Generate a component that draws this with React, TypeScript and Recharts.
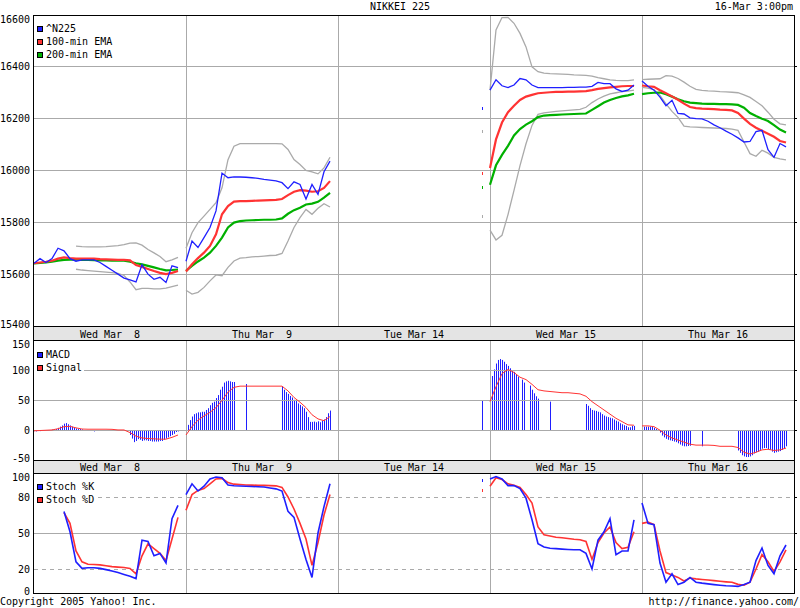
import React from "react";
import { ComposedChart, LineChart, Line, Bar, XAxis, YAxis, ReferenceLine } from "recharts";

const _ = null;
const none = (n: number) => Array(n).fill(null);
const lastOnly = (v: number) => [...none(24), v];

const FONT = '"DejaVu Sans Mono", monospace';
const BLUE = "#1f1fff";
const RED = "#ff3333";
const GREEN = "#00b000";
const GRAY = "#aaaaaa";
const GRID = "#aaaaaa";

// x axis: each trading day gets a 380-minute slot, data runs 9:00-15:00
const DAY_LABELS = ["Wed Mar  8", "Thu Mar  9", "Tue Mar 14", "Wed Mar 15", "Thu Mar 16"];
const SLOT = 380;
const STEP = 15; // line samples
const BAR_STEP = 5; // MACD bars
const DAY_EDGES = [380, 760, 1140, 1520];
const DAY_MIDS = [190, 570, 950, 1330, 1710];

const PRICE_TICKS = [15400, 15600, 15800, 16000, 16200, 16400, 16600];
const PRICE_GRID = [15600, 15800, 16000, 16200, 16400];
const MACD_TICKS = [-50, 0, 50, 100, 150];
const MACD_GRID = [0, 50, 100];
const STOCH_TICKS = [0, 20, 50, 80, 100];
const STOCH_GRID = [20, 50, 80];

// ^N225, 15-minute samples per day
const price = [
  [15642, 15660, 15645, 15660, 15700, 15690, 15660, 15650, 15655, 15655, 15655, 15645, 15630, 15615, 15600, 15585, 15578, 15570, 15636, 15600, 15580, 15588, 15568, 15632, 15625],
  [15650, 15728, 15703, 15741, 15780, 15844, 15990, 15972, 15975, 15975, 15974, 15972, 15970, 15966, 15963, 15960, 15953, 15930, 15956, 15946, 15890, 15946, 15908, 15995, 16036],
  lastOnly(16241),
  [16310, 16350, 16327, 16320, 16330, 16355, 16350, 16330, 16320, 16320, 16320, 16320, 16320, 16321, 16321, 16322, 16322, 16325, 16340, 16335, 16335, 16315, 16305, 16310, 16330],
  [16345, 16325, 16310, 16283, 16250, 16271, 16220, 16218, 16203, 16200, 16199, 16190, 16176, 16165, 16152, 16140, 16126, 16110, 16112, 16150, 16155, 16080, 16051, 16104, 16091],
];

const ema100 = [
  [15642, 15645, 15648, 15652, 15660, 15665, 15662, 15660, 15660, 15660, 15660, 15658, 15657, 15656, 15655, 15655, 15653, 15635, 15628, 15620, 15612, 15605, 15600, 15605, 15612],
  [15610, 15638, 15662, 15683, 15709, 15754, 15831, 15863, 15880, 15882, 15882, 15883, 15884, 15885, 15886, 15887, 15890, 15905, 15918, 15924, 15922, 15918, 15920, 15933, 15959],
  lastOnly(15987),
  [16010, 16120, 16185, 16225, 16250, 16272, 16285, 16292, 16298, 16300, 16302, 16303, 16303, 16304, 16304, 16305, 16306, 16310, 16315, 16318, 16321, 16323, 16325, 16326, 16326],
  [16328, 16325, 16323, 16310, 16298, 16286, 16273, 16258, 16245, 16241, 16239, 16238, 16237, 16235, 16234, 16232, 16222, 16200, 16180, 16165, 16153, 16142, 16130, 16114, 16108],
];

const ema200 = [
  [15642, 15643, 15645, 15648, 15652, 15655, 15656, 15656, 15655, 15655, 15654, 15653, 15653, 15652, 15652, 15652, 15648, 15642, 15638, 15632, 15626, 15620, 15615, 15616, 15618],
  [15613, 15632, 15649, 15664, 15683, 15709, 15741, 15780, 15799, 15805, 15807, 15808, 15809, 15810, 15810, 15811, 15815, 15833, 15847, 15856, 15869, 15872, 15879, 15895, 15914],
  lastOnly(15933),
  [15945, 16020, 16060, 16095, 16135, 16160, 16177, 16190, 16206, 16212, 16214, 16215, 16216, 16217, 16218, 16219, 16220, 16234, 16248, 16262, 16272, 16280, 16286, 16290, 16296],
  [16295, 16298, 16300, 16301, 16294, 16285, 16275, 16267, 16262, 16260, 16258, 16257, 16257, 16256, 16256, 16255, 16253, 16242, 16222, 16210, 16200, 16191, 16175, 16158, 16147],
];

const bandUpper = [
  [_, _, _, _, _, _, _, 15708, 15706, 15705, 15705, 15705, 15706, 15708, 15710, 15714, 15720, 15721, 15712, 15695, 15682, 15668, 15648, 15655, 15665],
  [15700, 15760, 15799, 15824, 15850, 15876, 15933, 16042, 16094, 16104, 16104, 16104, 16104, 16104, 16104, 16104, 16103, 16081, 16042, 16023, 16000, 15995, 15987, 16010, 16051],
  lastOnly(16152),
  [16310, 16542, 16590, 16591, 16568, 16529, 16477, 16400, 16381, 16376, 16374, 16373, 16372, 16371, 16369, 16368, 16367, 16364, 16358, 16354, 16350, 16348, 16347, 16347, 16350],
  [16351, 16352, 16353, 16354, 16366, 16364, 16355, 16341, 16325, 16313, 16309, 16307, 16306, 16304, 16303, 16302, 16300, 16292, 16282, 16266, 16250, 16225, 16198, 16180, 16176],
];

const bandLower = [
  [_, _, _, _, _, _, _, 15619, 15616, 15614, 15612, 15610, 15608, 15606, 15603, 15595, 15570, 15540, 15545, 15545, 15543, 15543, 15546, 15552, 15558],
  [15538, 15523, 15530, 15549, 15574, 15597, 15594, 15626, 15651, 15662, 15664, 15667, 15668, 15670, 15672, 15673, 15680, 15728, 15780, 15818, 15850, 15831, 15854, 15872, 15859],
  lastOnly(15822),
  [15770, 15732, 15750, 15830, 15923, 16019, 16103, 16174, 16217, 16222, 16225, 16228, 16230, 16232, 16234, 16236, 16244, 16262, 16276, 16287, 16296, 16300, 16304, 16306, 16310],
  [16321, 16318, 16312, 16290, 16257, 16228, 16205, 16171, 16168, 16167, 16166, 16165, 16164, 16163, 16162, 16160, 16155, 16110, 16065, 16055, 16078, 16067, 16051, 16045, 16041],
];

// MACD histogram, 5-minute bars per day
const macd = [
  [-1.5, -2, -1, -1.5, -1, -1, -1, -1, -0.5, 1, 1.5, 2, 4, 6, 8, 11, 12, 10, 8, 6, 4, 3, 2, 2, 1.5,
    ...none(5), -2, ...none(17),
    -8, -14, -20, -18, -15, -16, -18, -17, -17, -18, -18, -19, -19, -19, -19, -18, -18, -16, -14, -12, -10, -8, -6, -3, -2],
  [3, 9, 17, 23, 27, 28.5, 30, 30, 31, 31, 34, 37, 42, 46, 48, 54, 59, 68, 73, 80, 82, 83, 82, 81, 81,
    ...none(5), 77.6, ...none(17),
    73, 68, 64, 61, 57.5, 55, 51, 49, 45, 42.5, 40, 37, 31, 22, 14, 14, 14.5, 13.4, 15, 13.4, 16, 18, 22, 28.5, 33],
  [...none(72), 50],
  [73, 91, 102, 112, 118, 119.5, 118, 115, 111, 108, 104, 101, 98, 94, 90, _, 85, 80, _, _, 75, 68, 62, 57, 53,
    ...none(5), 48, ...none(17),
    44, 41, 37, 34, 33, 32.4, 31, 30, 27, 24.6, 23, 22, 21, 20, 18, 16, 14.5, 11.7, 10, 8.4, 7.3, 5, 5, 7.3, 7.3],
  [6, 6, 6, 6, 6, 6, 4, 2, -1, -4, -9, -12, -14.5, -16, -17, -18, -19, -20, -22, -24, -26, -27, -27, -26.5, -26,
    ...none(5), -27, ...none(17),
    -34, -38, -42, -44, -45, -45, -44, -42, -39, -37, -36, -33, -31, -30, -30, -32, -33, -36, -38, -37, -36, -35, -33, -30, -27],
];

const signal = [
  [-1, -0.5, 0, 0.5, 2.5, 6, 6.5, 4, 2, 1.7, 1.7, 1.7, 1.7, 1.5, 0.5, 0.5, -4, -10, -13, -14, -14.5, -15, -15, -12, -8],
  [-8, 6, 17, 24, 30, 38, 50, 64, 72, 74, 74, 74, 74, 74, 74, 74, 74, 66, 55, 47, 38, 26, 19, 16, 23],
  none(25),
  [48, 73, 95, 102, 97, 89, 85, 77, 68, 66, 65, 64, 63, 63, 62, 61, 57, 48, 41, 34, 27, 20, 14.5, 9, 8.4],
  [7.3, 7.3, 6, 0, -8, -13, -16.5, -20, -23.5, -25, -25, -25, -25.5, -27, -27, -27, -29, -37, -40, -37, -33, -32, -34, -33, -30],
];

const stochK = [
  [_, _, _, _, _, 68, 51, 26, 20.5, 21, 21, 20.5, 19.5, 18.3, 17, 15.5, 14, 12, 44, 43, 31, 33, 25, 62, 73],
  [82, 91, 85, 89, 95, 96.7, 96, 90, 89.4, 89.2, 89, 88.8, 88.5, 88.3, 87.5, 86.8, 85, 68, 63, 45, 28, 13, 50, 72, 91],
  lastOnly(93.6),
  [95, 97, 95, 89.5, 89.5, 87, 79, 61, 41, 38.3, 37.3, 37, 36.6, 36.3, 36.1, 36, 33, 20, 44, 51, 62, 32, 35, 35, 61],
  [75, 58, 57, 25, 9, 16, 7, 9, 13, 9, 8.2, 7.6, 7, 6.5, 6, 5.8, 5.5, 7, 9, 27, 37.5, 23, 16, 31, 40],
];

const stochD = [
  [_, _, _, _, _, 67, 58, 35, 26, 24, 23.8, 23.4, 22.7, 22, 21.6, 21.2, 20.5, 16, 31, 41, 37, 33, 27, 45, 63],
  [69, 82, 85.5, 87, 91, 95, 95.5, 92, 90.7, 90.4, 90, 89.9, 89.8, 89.7, 89.5, 89.3, 88, 80, 70, 58, 45, 23, 42, 65, 82],
  lastOnly(85.5),
  [89, 96, 94.5, 91, 89.7, 88, 82, 75, 55, 48.5, 47.5, 46.4, 46, 45.4, 44.8, 44.4, 43, 28, 42, 50, 55, 42, 37, 38, 51],
  [58, 59, 57, 35, 17, 15, 13, 10, 12.5, 11.8, 11.3, 10.8, 10.3, 9.8, 9.3, 8.9, 7.2, 6.5, 9, 20, 32, 26, 18, 26, 36],
];

type Row = { t: number; [k: string]: number | null };

// one row per sample, plus an empty row after each session so lines break between days
function buildRows(series: Record<string, (number | null)[][]>, step: number): Row[] {
  const keys = Object.keys(series);
  const rows: Row[] = [];
  DAY_LABELS.forEach((_d, d) => {
    const n = series[keys[0]][d].length;
    for (let i = 0; i < n; i++) {
      const row: Row = { t: d * SLOT + i * step };
      keys.forEach((k) => (row[k] = series[k][d][i] ?? null));
      rows.push(row);
    }
    const gap: Row = { t: d * SLOT + 370 };
    keys.forEach((k) => (gap[k] = null));
    rows.push(gap);
  });
  return rows;
}

const priceRows = buildRows({ price, ema100, ema200, bandUpper, bandLower }, STEP);
const macdRows = buildRows({ macd }, BAR_STEP);
const signalRows = buildRows({ signal }, STEP);
const stochRows = buildRows({ stochK, stochD }, STEP);

// plot spans x 34..794: 760px for 1900 minutes, so 5-minute bars fall on whole pixels

// a lone sample (Tue Mar 14) has no segment to draw, so show it as a small mark
function soloDot(rows: Row[], key: string, color: string) {
  return (p: any) => {
    const i = p.index;
    const k = `${key}-${i}`;
    const v = rows[i]?.[key];
    const lone = v != null && rows[i - 1]?.[key] == null && rows[i + 1]?.[key] == null;
    if (!lone || p.cx == null || p.cy == null) return <g key={k} />;
    return <rect key={k} x={Math.round(p.cx)} y={p.cy - 1.5} width={1} height={3} fill={color} shapeRendering="crispEdges" />;
  };
}

const yTick = (top: number, bottom: number) => (p: any) => {
  const y = Math.min(Math.max(p.y, top + 4.5), bottom - 2);
  return (
    <text x={30} y={y + 3.5} textAnchor="end" fontSize={10} fontFamily={FONT} fill="#000">
      {p.payload.value}
    </text>
  );
};

const bandTick = (baseline: number) => (p: any) => (
  <text x={p.x} y={baseline} textAnchor="middle" fontSize={10} fontFamily={FONT} fill="#000" xmlSpace="preserve" style={{ whiteSpace: "pre" }}>
    {DAY_LABELS[DAY_MIDS.indexOf(p.payload.value)]}
  </text>
);

const macdBar = (p: any) => {
  const { x, y, width, height } = p;
  if (p.payload?.macd == null || !isFinite(y) || !isFinite(height) || height === 0) return <g />;
  const col = Math.round(x + width / 2) + 0.5;
  const y1 = Math.min(y, y + height);
  const y2 = Math.max(y, y + height);
  return <line x1={col} x2={col} y1={y1} y2={y2} stroke={BLUE} strokeWidth={1} />;
};

const gridY = (vals: number[], dashed: number[] = []) =>
  vals.map((v) => (
    <ReferenceLine key={`y${v}`} y={v} stroke={GRID} strokeDasharray={dashed.includes(v) ? "4 4" : undefined} shapeRendering="crispEdges" />
  ));
const gridX = () =>
  DAY_EDGES.map((t) => <ReferenceLine key={`x${t}`} x={t} stroke={GRID} shapeRendering="crispEdges" />);

// short outward tick marks on the right edge of each panel
const rightTicks = (domain: [number, number], ticks: number[]) => (
  <YAxis yAxisId="r" orientation="right" type="number" domain={domain} ticks={ticks} interval={0} allowDataOverflow width={6}
    axisLine={false} tickSize={3} tickLine={{ stroke: "#000", shapeRendering: "crispEdges" }} tick={() => <g />} />
);

function LegendBox({ top, items }: { top: number; items: [string, string][] }) {
  return (
    <div style={{ position: "absolute", left: 34, top, background: "#fff", padding: "0 2px 0 3px", lineHeight: "13px" }}>
      {items.map(([label, color]) => (
        <div key={label} style={{ display: "flex", alignItems: "center", whiteSpace: "pre" }}>
          <span style={{ width: 4, height: 4, border: "1px solid #000", background: color, marginRight: 3 }} />
          {label}
        </div>
      ))}
    </div>
  );
}

const line = (y: number, h = 1, w = 762) => ({ position: "absolute" as const, left: 33, top: y, width: w, height: h, background: "#000" });
const abs = (left: number, top: number) => ({ position: "absolute" as const, left, top });

export default function App() {
  return (
    <div style={{ position: "absolute", left: 0, top: 0, width: 800, height: 608, background: "#fff", fontFamily: FONT, fontSize: 10, color: "#000", overflow: "hidden" }}>
      {/* date bands */}
      <div style={{ position: "absolute", left: 34, top: 327, width: 760, height: 13, background: "#e4e4e4" }} />
      <div style={{ position: "absolute", left: 34, top: 461, width: 760, height: 12, background: "#e4e4e4" }} />

      {/* price panel */}
      <div style={abs(0, 0)}>
        <ComposedChart width={800} height={340} data={priceRows} margin={{ left: 0, right: 0, top: 15, bottom: 0 }}>
          <XAxis dataKey="t" type="number" domain={[0, 1900]} ticks={DAY_MIDS} interval={0} allowDataOverflow height={14} axisLine={false} tickLine={false} tick={bandTick(338)} />
          <YAxis type="number" domain={[15400, 16600]} ticks={PRICE_TICKS} interval={0} allowDataOverflow width={34} axisLine={false} tickLine={false} tick={yTick(15, 326)} />
          {rightTicks([15400, 16600], PRICE_GRID)}
          {gridY(PRICE_GRID)}
          {gridX()}
          <Line dataKey="bandUpper" stroke={GRAY} strokeWidth={1.3} dot={soloDot(priceRows, "bandUpper", GRAY)} activeDot={false} isAnimationActive={false} />
          <Line dataKey="bandLower" stroke={GRAY} strokeWidth={1.3} dot={soloDot(priceRows, "bandLower", GRAY)} activeDot={false} isAnimationActive={false} />
          <Line dataKey="ema200" stroke={GREEN} strokeWidth={2.2} dot={soloDot(priceRows, "ema200", GREEN)} activeDot={false} isAnimationActive={false} />
          <Line dataKey="ema100" stroke={RED} strokeWidth={2.2} dot={soloDot(priceRows, "ema100", RED)} activeDot={false} isAnimationActive={false} />
          <Line dataKey="price" stroke={BLUE} strokeWidth={1.3} dot={soloDot(priceRows, "price", BLUE)} activeDot={false} isAnimationActive={false} />
        </ComposedChart>
      </div>

      {/* MACD panel: bars */}
      <div style={abs(0, 340)}>
        <ComposedChart width={800} height={133} data={macdRows} margin={{ left: 0, right: 0, top: 0, bottom: 0 }}>
          <XAxis dataKey="t" type="number" domain={[0, 1900]} ticks={DAY_MIDS} interval={0} allowDataOverflow height={13} axisLine={false} tickLine={false} tick={bandTick(130.5)} />
          <YAxis type="number" domain={[-50, 151.5]} ticks={MACD_TICKS} interval={0} allowDataOverflow width={34} axisLine={false} tickLine={false} tick={yTick(0, 120)} />
          {rightTicks([-50, 151.5], MACD_GRID)}
          {gridY(MACD_GRID)}
          {gridX()}
          <Bar dataKey="macd" barSize={1} fill={BLUE} shape={macdBar} isAnimationActive={false} />
        </ComposedChart>
      </div>
      {/* MACD panel: signal line */}
      <div style={abs(0, 340)}>
        <LineChart width={800} height={133} data={signalRows} margin={{ left: 0, right: 6, top: 0, bottom: 0 }}>
          <XAxis dataKey="t" type="number" domain={[0, 1900]} allowDataOverflow height={13} axisLine={false} tickLine={false} tick={false} />
          <YAxis type="number" domain={[-50, 151.5]} allowDataOverflow width={34} axisLine={false} tickLine={false} tick={false} />
          <Line dataKey="signal" stroke={RED} strokeWidth={1} dot={false} activeDot={false} isAnimationActive={false} />
        </LineChart>
      </div>

      {/* stochastic panel */}
      <div style={abs(0, 473)}>
        <LineChart width={800} height={126} data={stochRows} margin={{ left: 0, right: 0, top: 0, bottom: 6 }}>
          <XAxis dataKey="t" type="number" domain={[0, 1900]} allowDataOverflow hide />
          <YAxis type="number" domain={[0, 100]} ticks={STOCH_TICKS} interval={0} allowDataOverflow width={34} axisLine={false} tickLine={false} tick={yTick(0, 120)} />
          {rightTicks([0, 100], STOCH_GRID)}
          {gridY(STOCH_GRID, [20, 80])}
          {gridX()}
          <Line dataKey="stochD" stroke={RED} strokeWidth={1.6} dot={soloDot(stochRows, "stochD", RED)} activeDot={false} isAnimationActive={false} />
          <Line dataKey="stochK" stroke={BLUE} strokeWidth={1.6} dot={soloDot(stochRows, "stochK", BLUE)} activeDot={false} isAnimationActive={false} />
        </LineChart>
      </div>

      {/* panel frames */}
      <div style={line(15)} />
      <div style={line(326)} />
      <div style={line(340)} />
      <div style={line(460)} />
      <div style={line(473)} />
      <div style={line(593)} />
      <div style={{ position: "absolute", left: 33, top: 15, width: 1, height: 579, background: "#000" }} />
      <div style={{ position: "absolute", left: 794, top: 15, width: 1, height: 579, background: "#000" }} />

      <LegendBox top={22} items={[["^N225", BLUE], ["100-min EMA", RED], ["200-min EMA", GREEN]]} />
      <LegendBox top={348} items={[["MACD", BLUE], ["Signal", RED]]} />
      <LegendBox top={480} items={[["Stoch %K", BLUE], ["Stoch %D", RED]]} />

      <div style={{ position: "absolute", left: 0, top: 1, width: 800, textAlign: "center", lineHeight: "12px" }}>NIKKEI 225</div>
      <div style={{ position: "absolute", right: 7, top: 1, lineHeight: "12px" }}>16-Mar 3:00pm</div>
      <div style={{ position: "absolute", left: 0, top: 596, lineHeight: "12px" }}>Copyright 2005 Yahoo! Inc.</div>
      <div style={{ position: "absolute", right: 1, top: 596, lineHeight: "12px" }}>http://finance.yahoo.com/</div>
    </div>
  );
}
